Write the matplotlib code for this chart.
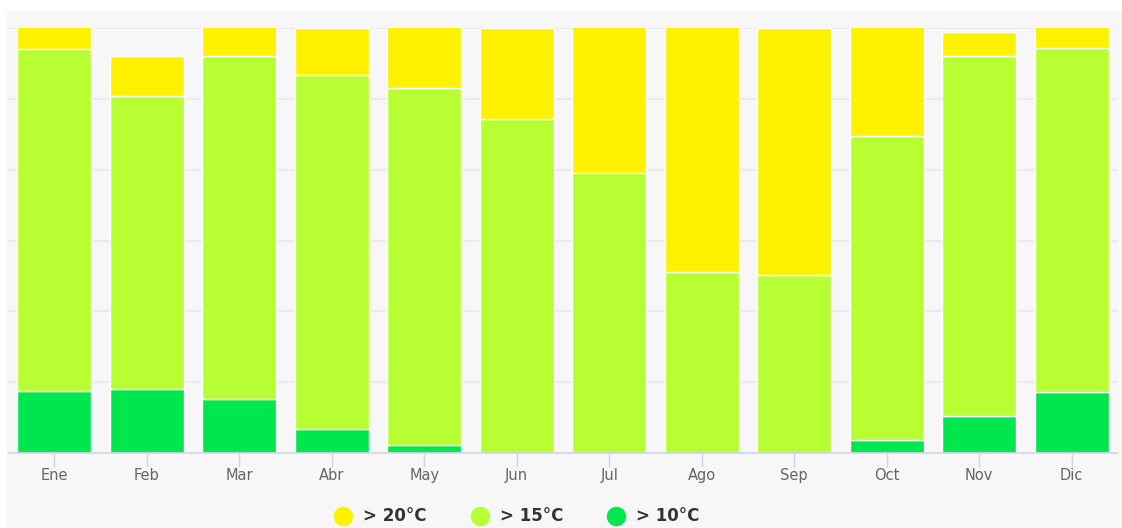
import numpy as np
import matplotlib.pyplot as plt
from matplotlib.lines import Line2D
from matplotlib.patches import Rectangle

# days per month in each temperature band
months = ["Ene", "Feb", "Mar", "Abr", "May", "Jun",
          "Jul", "Ago", "Sep", "Oct", "Nov", "Dic"]
over10 = [4.4, 4.5, 3.8, 1.7, 0.6, 0.0, 0.0, 0.0, 0.0, 0.9, 2.6, 4.3]
over15 = [24.1, 20.7, 24.2, 25.0, 25.2, 23.6, 19.8, 12.8, 12.6, 21.5, 25.4, 24.3]
over20 = [2.5, 2.8, 3.0, 3.3, 5.2, 6.4, 11.2, 18.2, 17.4, 8.6, 1.7, 2.4]
labels = ["> 20°C", "> 15°C", "> 10°C"]
colors = ["#fff200", "#b7ff33", "#00e64f"]

bg = "#f7f7f7"
fig = plt.figure(figsize=(11.22, 5.28), dpi=100)
fig.patch.set_facecolor("white")
fig.add_artist(Rectangle((7 / 1122, 0), 1, 1 - 11 / 528, transform=fig.transFigure,
                         facecolor=bg, edgecolor="none", zorder=-10))

ax = fig.add_axes([8 / 1122, 75 / 528, 1110 / 1122, 425 / 528])
ax.set_facecolor(bg)

x = np.arange(len(months))
b10 = np.array(over10)
b15 = np.array(over15)
b20 = np.array(over20)
kw = dict(width=0.8, edgecolor="white", linewidth=1, zorder=3)
ax.bar(x, b10, color=colors[2], **kw)
ax.bar(x, b15, bottom=b10, color=colors[1], **kw)
ax.bar(x, b20, bottom=b10 + b15, color=colors[0], **kw)

ax.set_xlim(-0.5, len(months) - 0.5)
ax.set_ylim(0, 30)
ax.set_yticks(np.arange(0, 31, 5))
ax.yaxis.grid(True, color="#ebebeb", linewidth=1.5, zorder=0)
ax.tick_params(axis="y", left=False, labelleft=False)

ax.set_xticks(x)
ax.set_xticklabels(months, fontsize=10.5, color="#666666")
ax.tick_params(axis="x", length=10, width=1, color="#ccd6eb", pad=1)
for s in ["top", "left", "right"]:
    ax.spines[s].set_visible(False)
ax.spines["bottom"].set_color("#ccd6eb")
ax.spines["bottom"].set_linewidth(1.2)
ax.spines["bottom"].set_zorder(4)

# legend
ly = 1 - 516 / 528
for lx, lab, col in zip([343, 480, 616], labels, colors):
    fig.add_artist(Line2D([lx / 1122], [ly], marker="o", markersize=13, color=col,
                          linestyle="none", transform=fig.transFigure))
    fig.text((lx + 20) / 1122, ly, lab, fontsize=12, fontweight="bold",
             color="#333333", va="center", ha="left")

plt.savefig("out.png", dpi=100, facecolor=fig.get_facecolor())
